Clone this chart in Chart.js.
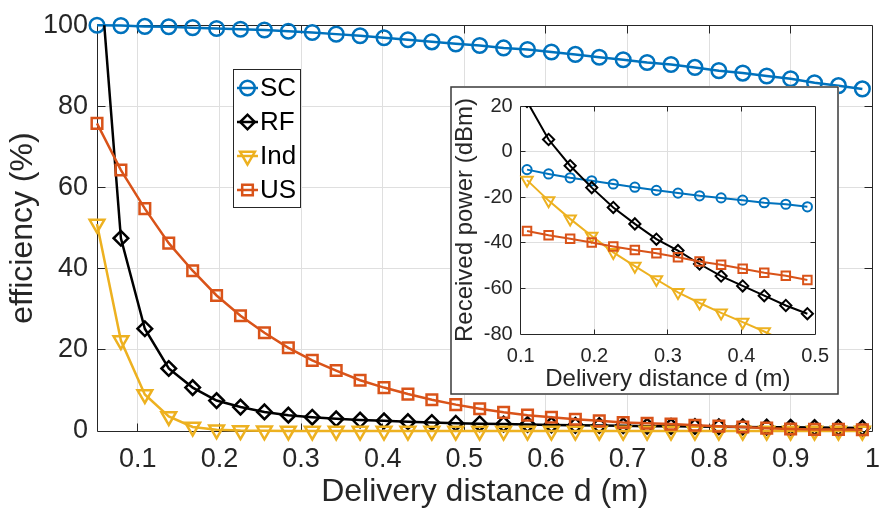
<!doctype html>
<html lang="en">
<head>
<meta charset="UTF-8">
<title>Efficiency vs delivery distance</title>
<script src="https://cdn.jsdelivr.net/npm/chart.js@4.4.0/dist/chart.umd.min.js"></script>
<style>
  html, body { margin: 0; padding: 0; background: #fff; overflow: hidden; }
  #wrap { position: relative; width: 881px; height: 513px; overflow: hidden; }
  #mainChart { position: absolute; left: 0; top: 0; }
  #insetChart { position: absolute; left: 450px; top: 86px; }
</style>
</head>
<body>
<div id="wrap">
  <canvas id="mainChart" width="892" height="513"></canvas>
  <canvas id="insetChart" width="389" height="309"></canvas>
</div>
<script>
// main plot: efficiency (%) vs delivery distance d (m)
const distance = [0.05, 0.0793, 0.1086, 0.1379, 0.1672, 0.1965, 0.2258, 0.2551, 0.2844, 0.3137, 0.343,
    0.3723, 0.4016, 0.4309, 0.4602, 0.4895, 0.5188, 0.5481, 0.5774, 0.6067, 0.636, 0.6653,
    0.6946, 0.7239, 0.7532, 0.7825, 0.8118, 0.8411, 0.8704, 0.8997, 0.929, 0.9583, 0.9876];
const effSC = [100, 99.9, 99.7, 99.6, 99.4, 99.2, 99.0, 98.8, 98.5, 98.2, 97.8, 97.4, 96.9, 96.4, 95.9,
    95.4, 95.0, 94.4, 94.0, 93.4, 92.8, 92.1, 91.5, 90.8, 90.3, 89.6, 88.8, 88.2, 87.5, 86.8, 85.8, 85.1, 84.3];
const effRF = [123, 47.5, 25.2, 15.4, 10.7, 7.5, 5.9, 4.7, 3.9, 3.4, 3.0, 2.7, 2.5, 2.3, 2.1, 1.9,
    1.8, 1.7, 1.6, 1.5, 1.4, 1.35, 1.3, 1.2, 1.15, 1.1, 1.05, 1.0, 0.95, 0.9, 0.85, 0.8, 0.75];
const effInd = [51, 22.3, 9.0, 3.6, 1.0, 0.3, 0.1, 0.05, 0.02, 0.01, 0.01, 0, 0, 0, 0, 0,
    0, 0, 0, 0, 0, 0, 0, 0, 0, 0, 0, 0, 0, 0, 0, 0, 0];
const effUS = [75.8, 64.3, 54.8, 46.3, 39.5, 33.4, 28.4, 24.2, 20.5, 17.4, 14.9, 12.5, 10.7, 9.1, 7.7, 6.5,
    5.5, 4.6, 3.9, 3.4, 2.9, 2.5, 2.1, 1.9, 1.7, 1.4, 1.2, 1.0, 0.7, 0.5, 0.4, 0.4, 0.3];

// inset: received power (dBm)
const insetDistance = [0.1086, 0.1379, 0.1672, 0.1965, 0.2258, 0.2551, 0.2844, 0.3137, 0.343, 0.3723,
    0.4016, 0.4309, 0.4602, 0.4895];
const powerSC = [-7.9, -9.8, -11.5, -12.8, -14.2, -15.6, -17.0, -18.2, -19.4, -20.3, -21.3, -22.4, -23.1, -24.2];
const powerRF = [22, 5.3, -6.2, -15.8, -24.5, -31.7, -38.4, -43.4, -49.3, -54.6, -58.9, -63.2, -67.5, -71.1];
const powerInd = [-12.5, -21.5, -29.5, -37.0, -44.2, -50.2, -56.1, -61.7, -66.4, -70.7, -74.8, -78.9, -83.3, -87.5];
const powerUS = [-34.8, -36.7, -38.2, -39.9, -41.6, -43.2, -44.6, -46.3, -48.2, -49.6, -51.4, -53.1, -54.5, -56.3];

const seriesNames = ['SC', 'RF', 'Ind', 'US'];
const mainXTicks = [0.1, 0.2, 0.3, 0.4, 0.5, 0.6, 0.7, 0.8, 0.9, 1];
const mainYTicks = [0, 20, 40, 60, 80, 100];
const insetXTicks = [0.1, 0.2, 0.3, 0.4, 0.5];
const insetYTicks = [-80, -60, -40, -20, 0, 20];

const TEXT = '#262626';
const GRID = '#dfdfdf';
const styles = {
    SC:  { color: '#0072BD', pointStyle: 'circle',   rotation: 0,   r: 7.3, ri: 4.6 },
    RF:  { color: '#000000', pointStyle: 'rectRot',  rotation: 0,   r: 7.3, ri: 5.6 },
    Ind: { color: '#EDB120', pointStyle: 'triangle', rotation: 180, r: 8.5, ri: 6.6 },
    US:  { color: '#D95319', pointStyle: 'rect',     rotation: 0,   r: 7.5, ri: 6 }
};

Chart.defaults.font.family = 'Arial, "Liberation Sans", sans-serif';
Chart.defaults.color = TEXT;

function points(xs, ys) {
    return xs.map((x, i) => ({ x: x, y: ys[i] }));
}

function makeSet(name, xs, ys, inset, clip) {
    const s = styles[name];
    return {
        label: name,
        data: points(xs, ys),
        borderColor: s.color,
        backgroundColor: s.color,
        borderWidth: inset ? 2 : 2.5,
        pointStyle: s.pointStyle,
        rotation: s.rotation,
        pointRadius: inset ? s.ri : s.r,
        pointBorderWidth: inset ? 2 : 2.5,
        pointBorderColor: s.color,
        pointBackgroundColor: 'rgba(0,0,0,0)',
        tension: 0,
        clip: clip,
        order: 3 - seriesNames.indexOf(name)
    };
}

// box round the plot area, with inward tick marks like MATLAB
const framePlugin = {
    id: 'frame',
    beforeDatasetsDraw(chart, args, opts) {
        const { ctx, chartArea: a, scales: { x, y } } = chart;
        const L = Math.floor(a.left) + 0.5, R = Math.floor(a.right) + 0.5;
        const T = Math.floor(a.top) + 0.5, B = Math.floor(a.bottom) + 0.5;
        ctx.save();
        ctx.strokeStyle = TEXT;
        ctx.lineWidth = 1;
        ctx.beginPath();
        x.ticks.forEach(t => {
            const px = Math.floor(x.getPixelForValue(t.value)) + 0.5;
            if (px <= L + 1 || px >= R - 1) return;
            ctx.moveTo(px, B); ctx.lineTo(px, B - opts.len);
            ctx.moveTo(px, T); ctx.lineTo(px, T + opts.len);
        });
        y.ticks.forEach(t => {
            const py = Math.floor(y.getPixelForValue(t.value)) + 0.5;
            if (py <= T + 1 || py >= B - 1) return;
            ctx.moveTo(L, py); ctx.lineTo(L + opts.len, py);
            ctx.moveTo(R, py); ctx.lineTo(R - opts.len, py);
        });
        ctx.rect(L, T, R - L, B - T);
        ctx.stroke();
        ctx.restore();
    }
};

// legend box inside the main axes
const boxLegend = {
    id: 'boxLegend',
    afterDatasetsDraw(chart) {
        const ctx = chart.ctx;
        ctx.save();
        ctx.fillStyle = '#fff';
        ctx.fillRect(233.5, 69.5, 67, 138);
        ctx.strokeStyle = TEXT;
        ctx.lineWidth = 1;
        ctx.strokeRect(233.5, 69.5, 67, 138);
        ctx.font = '26px Arial, "Liberation Sans", sans-serif';
        ctx.textBaseline = 'middle';
        ctx.textAlign = 'left';
        seriesNames.forEach((name, i) => {
            const s = styles[name];
            const yc = 88 + i * 34;
            ctx.strokeStyle = s.color;
            ctx.lineWidth = 2.5;
            ctx.beginPath();
            ctx.moveTo(237, yc); ctx.lineTo(258, yc);
            ctx.stroke();
            ctx.fillStyle = 'rgba(0,0,0,0)';
            Chart.helpers.drawPoint(ctx, { pointStyle: s.pointStyle, rotation: s.rotation, radius: s.r, borderWidth: 2.5 }, 247.5, yc);
            ctx.fillStyle = '#000';
            ctx.fillText(name, 260, yc + 1);
        });
        ctx.restore();
    }
};

// white panel with border behind the inset
const insetPanel = {
    id: 'insetPanel',
    beforeDraw(chart) {
        const ctx = chart.ctx;
        ctx.save();
        ctx.fillStyle = '#fff';
        ctx.fillRect(0, 0, chart.width, chart.height);
        ctx.strokeStyle = '#3a3a3a';
        ctx.lineWidth = 1.5;
        ctx.strokeRect(1, 1, 387, 307);
        ctx.restore();
    }
};

function axis(min, max, tickList, fontSize, tickPad, title, titleSize, titlePad, fitSize, isX) {
    return {
        type: 'linear',
        min: min,
        max: max,
        afterBuildTicks: s => { s.ticks = tickList.map(v => ({ value: v })); },
        afterFit: s => { if (isX) s.height = fitSize; else s.width = fitSize; },
        ticks: {
            font: { size: fontSize },
            color: TEXT,
            padding: tickPad,
            maxRotation: 0,
            autoSkip: false,
            callback: v => String(v)
        },
        grid: { color: GRID, lineWidth: 1, drawTicks: false },
        border: { display: false },
        title: { display: true, text: title, color: TEXT, font: { size: titleSize }, padding: titlePad }
    };
}

const mainClip = { left: 12, right: 12, top: 12, bottom: 12 };
new Chart(document.getElementById('mainChart'), {
    type: 'line',
    data: {
        datasets: [
            makeSet('SC', distance, effSC, false, mainClip),
            makeSet('RF', distance, effRF, false, { left: 12, right: 12, top: 0, bottom: 12 }),
            makeSet('Ind', distance, effInd, false, mainClip),
            makeSet('US', distance, effUS, false, mainClip)
        ]
    },
    options: {
        responsive: false,
        devicePixelRatio: 1,
        animation: false,
        events: [],
        layout: { padding: { top: 17, right: 8, left: 0, bottom: 0 } },
        plugins: { legend: { display: false }, tooltip: { enabled: false }, frame: { len: 8 } },
        scales: {
            x: axis(0.05, 1, mainXTicks, 27, 12, 'Delivery distance d (m)', 32, { top: 0, bottom: 2 }, 82, true),
            y: axis(0, 100, mainYTicks, 27, 9, 'efficiency (%)', 32, { top: 4, bottom: 0 }, 97, false)
        }
    },
    plugins: [framePlugin, boxLegend]
});

const insetClip = { left: 10, right: 10, top: 10, bottom: 10 };
new Chart(document.getElementById('insetChart'), {
    type: 'line',
    data: {
        datasets: [
            makeSet('SC', insetDistance, powerSC, true, insetClip),
            makeSet('RF', insetDistance, powerRF, true, { left: 10, right: 10, top: 0, bottom: 10 }),
            makeSet('Ind', insetDistance, powerInd, true, { left: 10, right: 10, top: 10, bottom: 0 }),
            makeSet('US', insetDistance, powerUS, true, insetClip)
        ]
    },
    options: {
        responsive: false,
        devicePixelRatio: 1,
        animation: false,
        events: [],
        layout: { padding: { top: 15.7, right: 20.7, left: 0, bottom: 0 } },
        plugins: { legend: { display: false }, tooltip: { enabled: false }, frame: { len: 5 } },
        scales: {
            x: axis(0.1, 0.5, insetXTicks, 20, 10, 'Delivery distance d (m)', 24, { top: 0, bottom: 1 }, 61, true),
            y: axis(-80, 20, insetYTicks, 20, 8, 'Received power (dBm)', 24, { top: 1, bottom: 0 }, 70.7, false)
        }
    },
    plugins: [insetPanel, framePlugin]
});
</script>
</body>
</html>
